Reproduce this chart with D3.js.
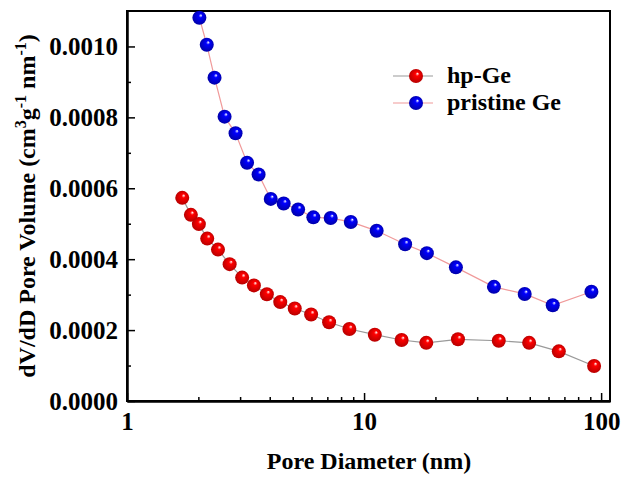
<!DOCTYPE html>
<html>
<head>
<meta charset="utf-8">
<script src="https://cdn.jsdelivr.net/npm/d3@7"></script>
<style>
  body { margin: 0; background: #fff; }
  text { font-family: "Liberation Serif", "Times New Roman", serif; font-weight: bold; }
</style>
</head>
<body>
<div id="chart"></div>
<script>
// data
const hpDiameter = [1.71, 1.86, 2.01, 2.18, 2.42, 2.71, 3.06, 3.43, 3.89, 4.43, 5.10, 5.98, 7.12, 8.67, 11.1, 14.4, 18.3, 24.9, 37.0, 49.7, 66.3, 93.4];
const hpVolume = [0.000573, 0.000525, 0.000499, 0.000458, 0.000427, 0.000386, 0.000348, 0.000326, 0.000301, 0.000279, 0.000261, 0.000244, 0.000222, 0.000203, 0.000187, 0.000172, 0.000164, 0.000174, 0.000170, 0.000164, 0.000140, 0.0000986];
const prDiameter = [2.02, 2.17, 2.34, 2.58, 2.87, 3.21, 3.59, 4.04, 4.58, 5.27, 6.11, 7.23, 8.79, 11.3, 14.9, 18.4, 24.4, 35.3, 47.6, 62.5, 91.0];
const prVolume = [0.001081, 0.001005, 0.000912, 0.000802, 0.000755, 0.000672, 0.000639, 0.000570, 0.000557, 0.000540, 0.000518, 0.000516, 0.000505, 0.000480, 0.000442, 0.000417, 0.000377, 0.000322, 0.000302, 0.000270, 0.000308];
const xTicks = [1, 10, 100];
const yTicks = [0, 0.0002, 0.0004, 0.0006, 0.0008, 0.0010];
const seriesNames = ["hp-Ge", "pristine Ge"];

const W = 623, H = 481;
const PLOT_LEFT = 127, PLOT_TOP = 11, PLOT_RIGHT = 610, PLOT_BOTTOM = 401;

const svg = d3.select("#chart").append("svg")
  .attr("width", W).attr("height", H);

const defs = svg.append("defs");
function ballGradient(id, c, dark) {
  const g = defs.append("radialGradient").attr("id", id)
    .attr("cx", "50%").attr("cy", "50%").attr("r", "55%")
    .attr("fx", "62%").attr("fy", "32%");
  g.append("stop").attr("offset", "0%").attr("stop-color", "#ffffff");
  g.append("stop").attr("offset", "25%").attr("stop-color", c);
  g.append("stop").attr("offset", "100%").attr("stop-color", dark);
}
ballGradient("ballRed", "#ff0000", "#b00000");
ballGradient("ballBlue", "#0000ff", "#0000a0");

const x = d3.scaleLog().domain([1, 109]).range([PLOT_LEFT, PLOT_RIGHT]);
const y = d3.scaleLinear().domain([0, 0.0011]).range([PLOT_BOTTOM, PLOT_TOP]);

// frame
svg.append("rect")
  .attr("x", PLOT_LEFT).attr("y", PLOT_TOP)
  .attr("width", PLOT_RIGHT - PLOT_LEFT).attr("height", PLOT_BOTTOM - PLOT_TOP)
  .attr("fill", "none").attr("stroke", "#000").attr("stroke-width", 2);

// x axis
const xMinor = [];
[1, 10].forEach(dec => { for (let k = 2; k <= 9; k++) xMinor.push(dec * k); });
svg.append("g").attr("transform", `translate(0,${PLOT_BOTTOM})`)
  .call(d3.axisBottom(x).tickValues(xTicks).tickFormat(d3.format("d"))
    .tickSize(-8).tickPadding(11).tickSizeOuter(0));
svg.append("g").attr("transform", `translate(0,${PLOT_BOTTOM})`)
  .call(d3.axisBottom(x).tickValues(xMinor).tickFormat("").tickSize(-4).tickSizeOuter(0));

// y axis
const yMinor = d3.range(1, 11, 2).map(d => d * 0.0001);
svg.append("g").attr("transform", `translate(${PLOT_LEFT},0)`)
  .call(d3.axisLeft(y).tickValues(yTicks).tickFormat(d3.format(".4f"))
    .tickSize(-8).tickPadding(9).tickSizeOuter(0));
svg.append("g").attr("transform", `translate(${PLOT_LEFT},0)`)
  .call(d3.axisLeft(y).tickValues(yMinor).tickFormat("").tickSize(-4).tickSizeOuter(0));

svg.selectAll(".domain").attr("stroke", "#000").attr("stroke-width", 2);
svg.selectAll(".tick line").attr("stroke", "#000").attr("stroke-width", 1.5);
svg.selectAll(".tick text").attr("font-size", 25).attr("fill", "#000")
  .style("font-family", "Liberation Serif").style("font-weight", "bold");

// axis titles
svg.append("text")
  .attr("x", 369).attr("y", 469)
  .attr("text-anchor", "middle").attr("font-size", 24)
  .text("Pore Diameter (nm)");

const yt = svg.append("text")
  .attr("transform", "translate(35,206) rotate(-90)")
  .attr("text-anchor", "middle").attr("font-size", 24);
yt.append("tspan").text("dV/dD Pore Volume (cm");
yt.append("tspan").attr("dy", -9).attr("font-size", 16).text("3");
yt.append("tspan").attr("dy", 9).text("g");
yt.append("tspan").attr("dy", -9).attr("font-size", 16).text("-1");
yt.append("tspan").attr("dy", 9).text(" nm");
yt.append("tspan").attr("dy", -9).attr("font-size", 16).text("-1");
yt.append("tspan").attr("dy", 9).text(")");

// series
const series = [
  { name: seriesNames[0], xs: hpDiameter, ys: hpVolume, line: "#9a9a9a", fill: "url(#ballRed)" },
  { name: seriesNames[1], xs: prDiameter, ys: prVolume, line: "#f09a9a", fill: "url(#ballBlue)" }
];
const line = d3.line().x(d => x(d[0])).y(d => y(d[1]));
series.forEach(s => {
  const pts = s.xs.map((v, i) => [v, s.ys[i]]);
  svg.append("path").datum(pts)
    .attr("d", line).attr("fill", "none")
    .attr("stroke", s.line).attr("stroke-width", 1.2);
  svg.append("g").selectAll("circle").data(pts).join("circle")
    .attr("cx", d => x(d[0])).attr("cy", d => y(d[1]))
    .attr("r", 7).attr("fill", s.fill);
});

// legend
const lg = svg.append("g").attr("transform", "translate(393,76)");
series.forEach((s, i) => {
  const g = lg.append("g").attr("transform", `translate(0,${i * 27})`);
  g.append("line").attr("x1", 0).attr("x2", 40).attr("y1", 0).attr("y2", 0)
    .attr("stroke", s.line).attr("stroke-width", 1.2);
  g.append("circle").attr("cx", 23).attr("cy", 0).attr("r", 7).attr("fill", s.fill);
  g.append("text").attr("x", 54).attr("y", 7).attr("font-size", 24).text(s.name);
});
</script>
</body>
</html>
